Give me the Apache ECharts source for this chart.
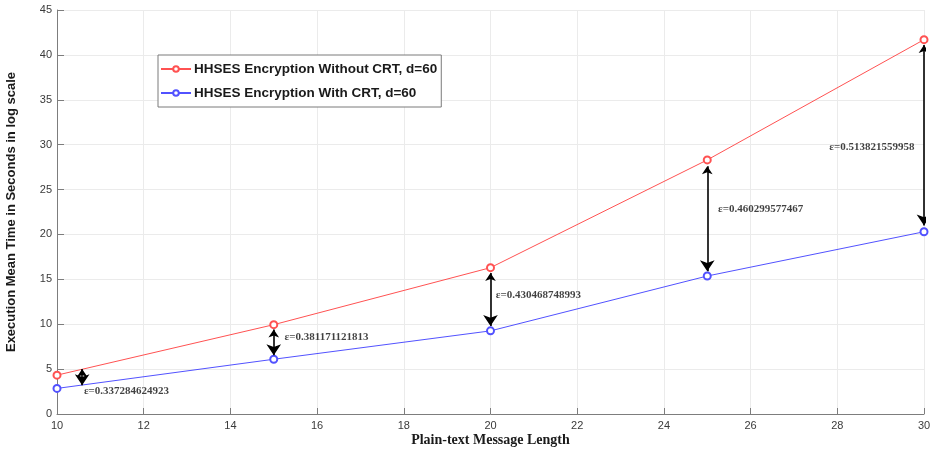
<!DOCTYPE html>
<html>
<head>
<meta charset="utf-8">
<script src="https://cdn.jsdelivr.net/npm/echarts@6/dist/echarts.min.js"></script>
<style>
  html, body { margin: 0; padding: 0; background: #ffffff; }
  #chart { width: 934px; height: 453px; }
</style>
</head>
<body>
<div id="chart"></div>
<script>
// Plain-text message lengths
var messageLength = [10, 15, 20, 25, 30];
// Mean execution time (s)
var withoutCRT = [4.33, 9.95, 16.3, 28.3, 41.7];
var withCRT = [2.85, 6.1, 9.26, 15.37, 20.3];

// Gap annotations: arrow x, arrow top / bottom values, epsilon label and where it sits
var gapX = [10.58, 15, 20, 25, 30];
var gapTop = [5.0, 9.4, 15.7, 27.6, 41.1];
var gapBottom = [3.2, 6.55, 9.8, 15.9, 21.0];
var gapText = ['ε=0.337284624923', 'ε=0.381171121813', 'ε=0.430468748993', 'ε=0.460299577467', 'ε=0.513821559958'];
var gapLabelX = [10.62, 15.25, 20.12, 25.25, 29.78];
var gapLabelY = [2.6, 8.6, 13.26, 22.8, 29.7];
var gapLabelAlign = ['left', 'left', 'left', 'left', 'right'];

var seriesNames = ['HHSES Encryption Without CRT, d=60', 'HHSES Encryption With CRT, d=60'];

function pairs(xs, ys) {
  return xs.map(function (x, i) { return [x, ys[i]]; });
}

var arrowLines = gapX.map(function (x, i) {
  return { coords: [[x, gapTop[i]], [x, gapBottom[i]]] };
});

var labelPoints = gapLabelX.map(function (x, i) {
  return {
    value: [x, gapLabelY[i]],
    label: { align: gapLabelAlign[i] }
  };
});

var axisGray = '#7d7d7d';
var gridGray = '#ebebeb';

var chart = echarts.init(document.getElementById('chart'), null, { renderer: 'canvas' });

chart.setOption({
  animation: false,
  backgroundColor: '#ffffff',
  grid: {
    left: 57, right: 10, top: 10, bottom: 39,
    containLabel: false, outerBoundsMode: 'none'
  },
  legend: {
    orient: 'vertical',
    left: 158, top: 55,
    data: seriesNames,
    itemWidth: 30, itemHeight: 7, itemGap: 10,
    padding: [7, 4, 7, 2],
    borderColor: '#7a7a7a', borderWidth: 1, backgroundColor: '#ffffff',
    textStyle: { fontFamily: 'Liberation Sans, Arial, sans-serif', fontWeight: 'bold', fontSize: 13.5, color: '#1a1a1a', padding: [0, 0, 0, -2] }
  },
  xAxis: {
    type: 'value', min: 10, max: 30, interval: 2,
    name: 'Plain-text Message Length', nameLocation: 'middle', nameGap: 19, nameMoveOverlap: false,
    nameTextStyle: { fontFamily: 'Liberation Serif, Times New Roman, serif', fontWeight: 'bold', fontSize: 14, color: '#1a1a1a' },
    axisLine: { show: true, lineStyle: { color: axisGray } },
    axisTick: { show: true, inside: true, length: 6, lineStyle: { color: axisGray } },
    axisLabel: { fontFamily: 'Liberation Sans, Arial, sans-serif', fontSize: 11, color: '#3a3a3a', margin: 6 },
    splitLine: { show: true, lineStyle: { color: gridGray } }
  },
  yAxis: {
    type: 'value', min: 0, max: 45, interval: 5,
    name: 'Execution Mean Time in Seconds in log scale', nameLocation: 'middle', nameGap: 39,
    nameTextStyle: { fontFamily: 'Liberation Sans, Arial, sans-serif', fontWeight: 'bold', fontSize: 13, color: '#1a1a1a' },
    axisLine: { show: true, lineStyle: { color: axisGray } },
    axisTick: { show: true, inside: true, length: 7, lineStyle: { color: axisGray } },
    axisLabel: { fontFamily: 'Liberation Sans, Arial, sans-serif', fontSize: 11, color: '#3a3a3a', margin: 5 },
    splitLine: { show: true, lineStyle: { color: gridGray } }
  },
  series: [
    {
      name: seriesNames[0], type: 'line', data: pairs(messageLength, withoutCRT),
      symbol: 'emptyCircle', symbolSize: 7, showAllSymbol: true,
      lineStyle: { color: '#ff5252', width: 1 },
      itemStyle: { color: '#ff5252', borderWidth: 1 },
      z: 3
    },
    {
      name: seriesNames[1], type: 'line', data: pairs(messageLength, withCRT),
      symbol: 'emptyCircle', symbolSize: 7, showAllSymbol: true,
      lineStyle: { color: '#5252ff', width: 1 },
      itemStyle: { color: '#5252ff', borderWidth: 1 },
      z: 3
    },
    {
      name: 'gaps', type: 'lines', coordinateSystem: 'cartesian2d',
      data: arrowLines,
      symbol: ['arrow', 'arrow'], symbolSize: [8, 11],
      lineStyle: { color: '#000000', width: 1.6, opacity: 1 },
      z: 4
    },
    {
      name: 'gapLabels', type: 'scatter', data: labelPoints,
      symbolSize: 0, silent: true,
      label: {
        show: true, position: [0, 0], verticalAlign: 'middle',
        formatter: function (p) { return gapText[p.dataIndex]; },
        fontFamily: 'Liberation Serif, Times New Roman, serif', fontWeight: 'bold', fontSize: 11, color: '#111111'
      },
      z: 5
    }
  ]
});
</script>
</body>
</html>
